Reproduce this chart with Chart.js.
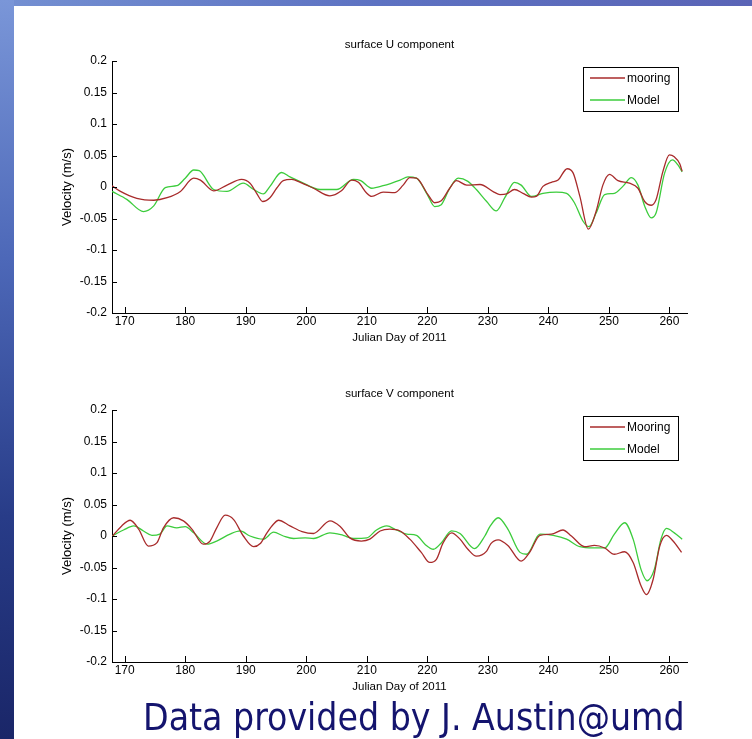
<!DOCTYPE html>
<html>
<head>
<meta charset="utf-8">
<script src="https://cdn.jsdelivr.net/npm/chart.js@4.4.0/dist/chart.umd.min.js"></script>
<style>
  html, body { margin: 0; padding: 0; }
  body { width: 752px; height: 739px; position: relative; overflow: hidden; background: #fff; }
  #topband { position: absolute; left: 0; top: 0; width: 752px; height: 6px;
    background: linear-gradient(to right, #7490d2, #5d72c2 50%, #5a64b6); }
  #leftband { position: absolute; left: 0; top: 0; width: 14px; height: 739px;
    background: linear-gradient(to bottom, #7a96d8, #4d68b8 35%, #283c88 70%, #1a2668); }
  canvas { position: absolute; left: 0; }
  #credit { position: absolute; left: 143px; top: 699px; font: 37px/37px 'DejaVu Sans Condensed', 'DejaVu Sans', sans-serif;
    color: #14146e; white-space: nowrap; }
</style>
</head>
<body>
<div id="topband"></div>
<div id="leftband"></div>
<canvas id="uChart" width="752" height="350" style="top:0"></canvas>
<canvas id="vChart" width="752" height="350" style="top:349px"></canvas>
<div id="credit">Data provided by J. Austin@umd</div>
<script>
const FONT = "'Liberation Sans', Arial, sans-serif";

const xTicks = [170, 180, 190, 200, 210, 220, 230, 240, 250, 260];
const yTicks = [-0.2, -0.15, -0.1, -0.05, 0, 0.05, 0.1, 0.15, 0.2];

// surface U component
const uMooringDay = [167.9, 169.3, 172.0, 174.8, 177.0, 179.2, 181.4, 182.5, 184.7, 186.9, 189.3, 190.7, 191.8, 192.8, 194.0, 195.1, 196.2, 197.6, 199.0, 201.2, 203.9, 205.8, 207.5, 208.6, 210.0, 210.8, 212.7, 214.6, 216.0, 217.1, 218.2, 220.1, 221.2, 222.3, 223.7, 224.8, 226.5, 228.7, 231.0, 232.0, 233.1, 234.4, 235.8, 237.2, 238.0, 239.1, 240.5, 241.6, 243.1, 244.1, 245.2, 246.6, 247.9, 249.0, 250.1, 251.5, 253.4, 254.8, 255.9, 257.0, 257.8, 258.9, 260.0, 260.8, 261.7, 262.1];
const uMooringVel = [0.002, -0.007, -0.018, -0.021, -0.017, -0.007, 0.014, 0.011, -0.006, 0.003, 0.012, 0.006, -0.010, -0.023, -0.017, -0.002, 0.010, 0.012, 0.0075, -0.002, -0.014, -0.006, 0.011, 0.0075, -0.010, -0.015, -0.008, -0.009, 0.003, 0.015, 0.014, -0.012, -0.025, -0.022, -0.002, 0.010, 0.003, 0.004, -0.008, -0.012, -0.011, -0.004, -0.010, -0.016, -0.015, 0.001, 0.0075, 0.011, 0.029, 0.022, -0.015, -0.067, -0.038, 0.003, 0.020, 0.010, 0.006, -0.002, -0.023, -0.029, -0.020, 0.024, 0.051, 0.048, 0.037, 0.025];
const uModelDay = [167.9, 170.4, 173.1, 174.8, 176.7, 178.6, 180.0, 181.4, 182.3, 184.7, 186.9, 189.6, 191.3, 192.9, 194.0, 195.9, 197.3, 199.0, 202.3, 205.0, 207.8, 209.0, 210.8, 212.7, 215.5, 216.8, 218.2, 220.0, 221.2, 222.3, 223.7, 225.1, 226.7, 228.1, 229.8, 231.4, 232.8, 234.4, 235.5, 237.2, 239.1, 241.3, 243.0, 244.3, 245.7, 246.7, 247.9, 249.3, 250.9, 252.3, 253.7, 254.8, 255.9, 257.0, 257.8, 259.2, 260.5, 261.4, 262.1];
const uModelVel = [-0.007, -0.020, -0.039, -0.030, -0.001, 0.002, 0.014, 0.027, 0.026, -0.004, -0.007, 0.006, -0.004, -0.011, 0.001, 0.023, 0.016, 0.0086, -0.004, -0.004, 0.012, 0.010, -0.002, 0.002, 0.011, 0.016, 0.014, -0.012, -0.031, -0.028, -0.002, 0.014, 0.009, -0.004, -0.023, -0.038, -0.017, 0.0075, 0.003, -0.015, -0.010, -0.008, -0.010, -0.025, -0.054, -0.063, -0.041, -0.012, -0.010, 0.001, 0.015, 0.003, -0.030, -0.049, -0.041, 0.022, 0.043, 0.035, 0.024];

// surface V component
const vMooringDay = [167.9, 169.5, 170.9, 172.3, 173.9, 175.3, 176.4, 178.1, 179.7, 181.1, 183.0, 184.1, 185.2, 186.6, 188.0, 189.6, 191.3, 192.4, 193.5, 194.6, 195.4, 197.3, 199.3, 201.2, 203.9, 205.6, 207.2, 209.1, 210.5, 212.2, 213.8, 215.5, 217.1, 219.0, 220.4, 221.5, 222.6, 224.0, 225.4, 226.7, 228.1, 229.8, 230.5, 231.7, 233.3, 235.5, 236.9, 238.6, 240.5, 242.4, 243.8, 246.0, 247.6, 249.3, 250.9, 252.6, 254.0, 255.3, 256.2, 257.3, 258.4, 259.5, 260.6, 262.0];
const vMooringVel = [-0.001, 0.016, 0.025, 0.011, -0.016, -0.011, 0.013, 0.029, 0.024, 0.011, -0.013, -0.008, 0.013, 0.033, 0.026, 0.000, -0.017, -0.012, 0.005, 0.019, 0.025, 0.016, 0.007, 0.004, 0.024, 0.015, -0.003, -0.008, -0.005, 0.008, 0.011, 0.008, -0.005, -0.026, -0.042, -0.037, -0.011, 0.005, -0.005, -0.021, -0.032, -0.024, -0.012, -0.006, -0.015, -0.040, -0.026, 0.001, 0.003, 0.0095, 0.000, -0.017, -0.015, -0.019, -0.029, -0.025, -0.042, -0.079, -0.093, -0.069, -0.016, 0.001, -0.008, -0.026];
const vModelDay = [167.9, 169.8, 171.5, 173.1, 174.5, 175.8, 177.0, 178.6, 180.0, 181.4, 183.6, 185.2, 187.4, 189.1, 190.7, 192.9, 194.6, 196.2, 197.9, 199.8, 201.2, 203.9, 206.1, 207.8, 210.0, 211.6, 213.3, 214.9, 216.6, 218.2, 219.6, 221.0, 222.3, 224.0, 225.4, 227.8, 229.5, 230.4, 231.7, 233.3, 235.3, 236.4, 238.6, 240.8, 243.0, 245.2, 247.4, 249.3, 250.9, 252.6, 254.0, 255.3, 256.3, 257.5, 258.6, 259.5, 260.8, 262.1];
const vModelVel = [0.000, 0.0095, 0.016, 0.008, 0.001, 0.003, 0.016, 0.013, 0.015, 0.005, -0.013, -0.008, 0.003, 0.008, 0.000, -0.005, 0.006, 0.000, -0.004, -0.003, -0.004, 0.005, 0.001, -0.004, -0.003, 0.0095, 0.016, 0.0095, 0.003, 0.001, -0.013, -0.021, -0.011, 0.008, 0.004, -0.020, 0.000, 0.016, 0.029, 0.011, -0.026, -0.029, 0.003, 0.001, -0.005, -0.017, -0.019, -0.019, 0.003, 0.021, -0.005, -0.053, -0.071, -0.053, -0.005, 0.012, 0.005, -0.005];

const RED = '#a82b2b';
const GREEN = '#3ccc3c';

function points(days, vel) {
  return days.map((d, i) => ({ x: d, y: vel[i] }));
}

// matlab style ticks pointing into the axes
const innerTicks = {
  id: 'innerTicks',
  afterDraw(chart) {
    const { ctx, chartArea: a, scales: { x, y } } = chart;
    ctx.save();
    ctx.strokeStyle = '#000';
    ctx.lineWidth = 1;
    ctx.beginPath();
    yTicks.forEach(v => {
      const py = Math.round(y.getPixelForValue(v)) + 0.5;
      ctx.moveTo(a.left, py);
      ctx.lineTo(a.left + 5, py);
    });
    xTicks.forEach(v => {
      const px = Math.round(x.getPixelForValue(v)) + 0.5;
      ctx.moveTo(px, a.bottom);
      ctx.lineTo(px, a.bottom - 6);
    });
    ctx.stroke();
    ctx.restore();
  }
};

// boxed legend in the upper right corner of the axes
const boxLegend = {
  id: 'boxLegend',
  afterDraw(chart) {
    const { ctx, chartArea: a } = chart;
    const sets = chart.data.datasets;
    ctx.save();
    ctx.font = '12px ' + FONT;
    const tw = Math.max(...sets.map(s => ctx.measureText(s.label).width));
    const w = Math.round(7 + 35 + 2 + tw + 8), h = 44;
    const left = Math.round(a.right - 9 - w), top = Math.round(a.top + 6);
    ctx.fillStyle = '#fff';
    ctx.fillRect(left, top, w, h);
    ctx.strokeStyle = '#000';
    ctx.lineWidth = 1;
    ctx.strokeRect(left + 0.5, top + 0.5, w, h);
    sets.forEach((s, i) => {
      const cy = top + 11 + i * 22;
      ctx.strokeStyle = s.borderColor;
      ctx.lineWidth = 1.3;
      ctx.beginPath();
      ctx.moveTo(left + 7, cy);
      ctx.lineTo(left + 42, cy);
      ctx.stroke();
      ctx.fillStyle = '#000';
      ctx.textBaseline = 'middle';
      ctx.fillText(s.label, left + 44, cy + 1);
    });
    ctx.restore();
  }
};

function makeChart(id, title, mooringLabel, mDay, mVel, modDay, modVel) {
  return new Chart(document.getElementById(id), {
    type: 'line',
    data: {
      datasets: [
        { label: mooringLabel, data: points(mDay, mVel), borderColor: RED, borderWidth: 1.3,
          pointRadius: 0, cubicInterpolationMode: 'monotone' },
        { label: 'Model', data: points(modDay, modVel), borderColor: GREEN, borderWidth: 1.3,
          pointRadius: 0, cubicInterpolationMode: 'monotone' }
      ]
    },
    options: {
      responsive: false,
      animation: false,
      layout: { padding: { left: 14, right: 65, top: 0, bottom: 0 } },
      plugins: {
        legend: { display: false },
        tooltip: { enabled: false },
        title: {
          display: true, text: title, color: '#000', fullSize: false,
          font: { family: FONT, size: 11.5, weight: 'normal' },
          padding: { top: 38.1, bottom: 9.1 }
        }
      },
      scales: {
        x: {
          type: 'linear', min: 167.9, max: 262.9,
          afterFit: s => { s.height = 37; },
          afterBuildTicks: s => { s.ticks = xTicks.map(v => ({ value: v })); },
          grid: { display: false, drawTicks: false },
          border: { color: '#000', width: 1 },
          ticks: { color: '#000', font: { family: FONT, size: 12 }, padding: 1.5, maxRotation: 0, autoSkip: false },
          title: { display: true, text: 'Julian Day of 2011', color: '#000',
            font: { family: FONT, size: 11.5 }, padding: { top: 0, bottom: 5.1 } }
        },
        y: {
          min: -0.2, max: 0.2,
          afterFit: s => { s.width = 98; },
          afterBuildTicks: s => { s.ticks = yTicks.map(v => ({ value: v })); },
          grid: { display: false, drawTicks: false },
          border: { color: '#000', width: 1 },
          ticks: { color: '#000', font: { family: FONT, size: 12 }, padding: 5,
            callback: v => String(+v.toFixed(2)) },
          title: { display: true, text: 'Velocity (m/s)', color: '#000',
            font: { family: FONT, size: 13 }, padding: { top: 45.2, bottom: 0 } }
        }
      }
    },
    plugins: [innerTicks, boxLegend]
  });
}

makeChart('uChart', 'surface U component', 'mooring', uMooringDay, uMooringVel, uModelDay, uModelVel);
makeChart('vChart', 'surface V component', 'Mooring', vMooringDay, vMooringVel, vModelDay, vModelVel);
</script>
</body>
</html>
